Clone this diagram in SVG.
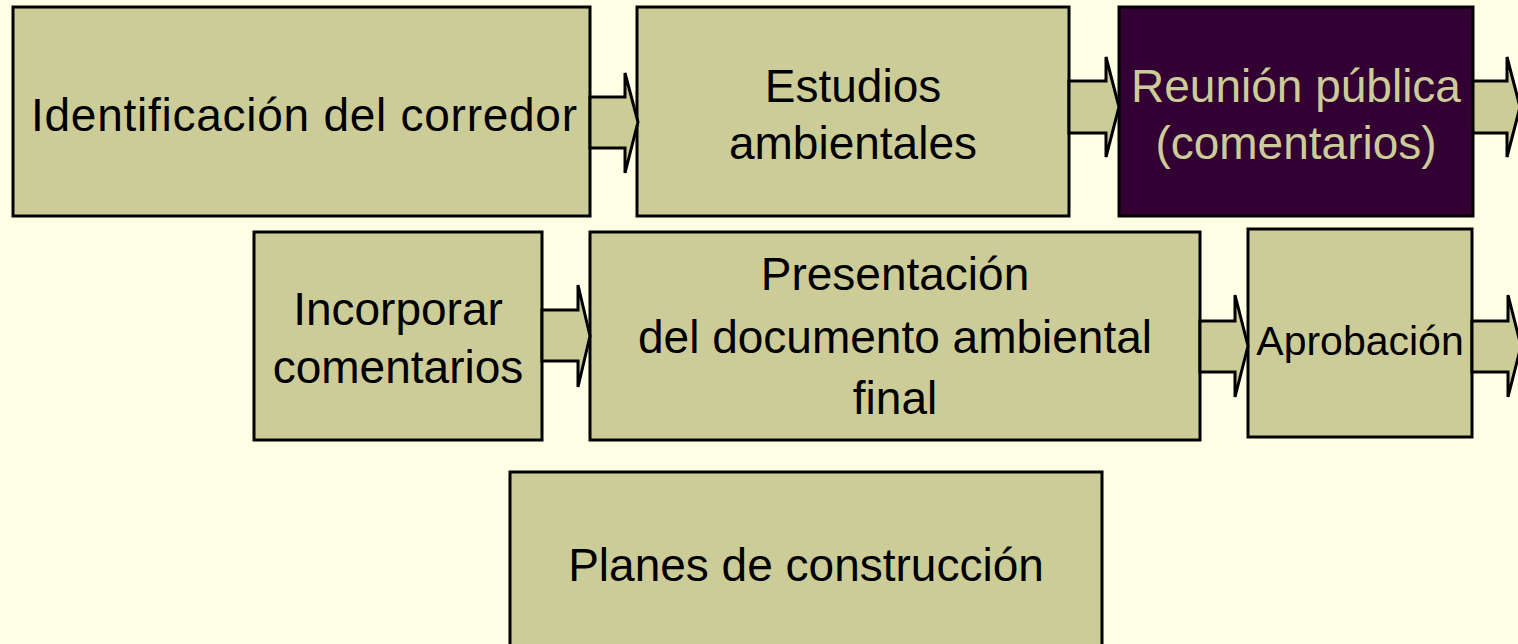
<svg xmlns="http://www.w3.org/2000/svg" width="1518" height="644" viewBox="0 0 1518 644">
<style>
.box{fill:#CCCC99;stroke:#000;stroke-width:3}
.dark{fill:#330033;stroke:#000;stroke-width:3}
.arr{fill:#CCCC99;stroke:#000;stroke-width:3;stroke-linejoin:miter}
.t{font-family:"Liberation Sans",Arial,sans-serif;font-size:46px;fill:#000;text-anchor:middle}
.tl{fill:#CCCC99}
</style>
<rect width="1518" height="644" fill="#FFFFE5"/>
<g id="n1"><rect class="box" x="13" y="7" width="577" height="209"/><text class="t" x="304" y="131" textLength="546">Identificación del corredor</text></g>
<g id="n2"><rect class="box" x="637" y="7" width="432" height="209"/><text class="t" x="853" y="102">Estudios</text><text class="t" x="853" y="159">ambientales</text></g>
<g id="n3"><rect class="dark" x="1119" y="7" width="354" height="209"/><text class="t tl" x="1296" y="102">Reunión pública</text><text class="t tl" x="1296" y="159">(comentarios)</text></g>
<g id="n4"><rect class="box" x="254" y="232" width="288" height="208"/><text class="t" x="398" y="325">Incorporar</text><text class="t" x="398" y="383">comentarios</text></g>
<g id="n5"><rect class="box" x="590" y="232" width="610" height="208"/><text class="t" x="895" y="290">Presentación</text><text class="t" x="895" y="353">del documento ambiental</text><text class="t" x="895" y="414">final</text></g>
<g id="n6"><rect class="box" x="1248" y="229" width="224" height="208"/><text class="t" x="1360" y="355" style="font-size:41px">Aprobación</text></g>
<g id="n7"><rect class="box" x="510" y="472" width="592" height="190"/><text class="t" x="806" y="581">Planes de construcción</text></g>
<g id="connectors">
<polygon class="arr" points="590,97 625,97 625,73 638,122 625,173 625,148 590,148"/>
<polygon class="arr" points="1069,81 1106,81 1106,57 1119,107 1106,157 1106,133 1069,133"/>
<polygon class="arr" points="1473,81 1507,81 1507,57 1520,107 1507,157 1507,133 1473,133"/>
<polygon class="arr" points="542,310 578,310 578,285 590,336 578,387 578,361 542,361"/>
<polygon class="arr" points="1200,321 1235,321 1235,295 1248,346 1235,397 1235,372 1200,372"/>
<polygon class="arr" points="1472,321 1508,321 1508,295 1521,346 1508,397 1508,372 1472,372"/>
</g>
</svg>
